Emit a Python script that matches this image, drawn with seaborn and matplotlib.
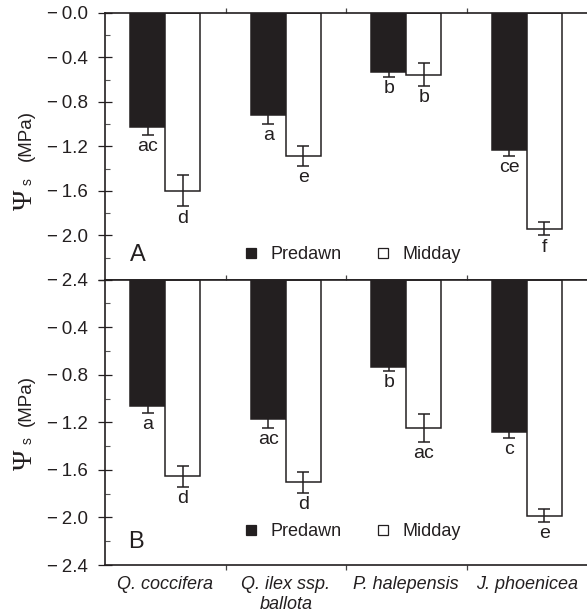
import matplotlib
matplotlib.use("Agg")
import matplotlib.pyplot as plt
import seaborn as sns
import pandas as pd
import numpy as np
from matplotlib.ticker import FixedLocator, FixedFormatter, MultipleLocator
from matplotlib.lines import Line2D

species = ["Q. coccifera", "Q. ilex ssp.\nballota", "P. halepensis", "J. phoenicea"]
times = ["Predawn", "Midday"]

# Panel A
a_predawn = [-1.03, -0.92, -0.53, -1.23]
a_predawn_err = [0.065, 0.075, 0.05, 0.06]
a_predawn_lab = ["ac", "a", "b", "ce"]
a_midday = [-1.60, -1.285, -0.555, -1.94]
a_midday_err = [0.14, 0.09, 0.105, 0.06]
a_midday_lab = ["d", "e", "b", "f"]

# Panel B
b_predawn = [-1.06, -1.17, -0.735, -1.28]
b_predawn_err = [0.06, 0.08, 0.03, 0.05]
b_predawn_lab = ["a", "ac", "b", "c"]
b_midday = [-1.655, -1.705, -1.245, -1.985]
b_midday_err = [0.09, 0.087, 0.118, 0.056]
b_midday_lab = ["d", "d", "ac", "e"]

ytick_vals = [0.0, -0.4, -0.8, -1.2, -1.6, -2.0, -2.4]
M = "\u2212\u2009"
ytick_labs_a = [M + "0.0", M + "0.4", M + "0.8", M + "1.2", M + "1.6", M + "2.0", M + "2.4"]
ytick_labs_b = ["", M + "0.4", M + "0.8", M + "1.2", M + "1.6", M + "2.0", M + "2.4"]

sns.set_style("ticks")
plt.rcParams["font.family"] = ["Liberation Sans", "DejaVu Sans"]

dark = "#231f20"
fig = plt.figure(figsize=(5.87, 6.13), dpi=100)
W, H = 587, 613
left = 105 / W
width = (587 - 105) / W
axA = fig.add_axes([left, 1 - 280 / H, width, (280 - 12.7) / H])
axB = fig.add_axes([left, 1 - 565 / H, width, (565 - 279.6) / H])


def px(x, y):
    return x / W, 1 - y / H


def ylabel(mpa_y, psi_y, s_y):
    fig.text(*px(26, mpa_y), "(MPa)", rotation=90, ha="center", va="center",
             fontsize=13.5, color=dark)
    fig.text(*px(25, psi_y), "\u03a8", rotation=90, ha="center", va="center",
             fontsize=20, color=dark, family=["Liberation Serif", "DejaVu Serif"])
    fig.text(*px(28, s_y), "s", rotation=90, ha="center", va="center",
             fontsize=10, color=dark)


def draw(ax, pre, pre_err, pre_lab, mid, mid_err, mid_lab, ylabs, letter, leg_y, letter_xy, bottom_labels):
    df = pd.DataFrame({
        "Species": species * 2,
        "Time": [times[0]] * 4 + [times[1]] * 4,
        "value": pre + mid,
    })
    sns.barplot(data=df, x="Species", y="value", hue="Time", order=species,
                hue_order=times, palette=[dark, "white"], edgecolor=dark,
                linewidth=1.1, width=0.58, gap=0, errorbar=None, legend=False,
                ax=ax, saturation=1)
    errs = [pre_err, mid_err]
    labs = [pre_lab, mid_lab]
    vals = [pre, mid]
    bar_conts = list(ax.containers)
    for ci, cont in enumerate(bar_conts):
        xs = [p.get_x() + p.get_width() / 2 for p in cont.patches]
        ax.errorbar(xs, vals[ci], yerr=errs[ci], fmt="none", ecolor=dark,
                    elinewidth=1.1, capsize=4.5, capthick=1.1, zorder=5)
        for x, v, e, t in zip(xs, vals[ci], errs[ci], labs[ci]):
            ax.annotate(t, (x, v - e), xytext=(0, -2.2), textcoords="offset points",
                        ha="center", va="top", fontsize=14, color=dark)
    ax.set_xlim(-0.5, 3.5)
    ax.set_ylim(-2.4, 0)
    ax.yaxis.set_major_locator(FixedLocator(ytick_vals))
    ax.yaxis.set_major_formatter(FixedFormatter(ylabs))
    ax.yaxis.set_minor_locator(MultipleLocator(0.2))
    ax.tick_params(axis="y", which="major", direction="inout", length=10, width=0.9,
                   labelsize=13.5, pad=7, colors=dark)
    ax.tick_params(axis="y", which="minor", direction="in", length=3.5, width=0.8,
                   colors="#555555")
    ax.set_xticks(range(4))
    if bottom_labels:
        ax.set_xticklabels(species, fontstyle="italic", fontsize=13, color=dark)
    else:
        ax.set_xticklabels([])
    ax.tick_params(axis="x", which="major", length=0, pad=8)
    ax.xaxis.set_minor_locator(FixedLocator([0.5, 1.5, 2.5]))
    ax.tick_params(axis="x", which="minor", direction="out", length=3.5, width=0.9,
                   top=True, bottom=bottom_labels, colors="#444444")
    for s in ["left", "top", "bottom"]:
        ax.spines[s].set_visible(True)
        ax.spines[s].set_linewidth(1.2)
        ax.spines[s].set_color(dark)
    ax.spines["right"].set_visible(False)
    ax.set_xlabel("")
    ax.set_ylabel("")
    ax.text(letter_xy[0], letter_xy[1], letter, transform=ax.transAxes,
            fontsize=17, ha="left", va="center", color=dark)
    handles = [
        Line2D([], [], marker="s", linestyle="none", markersize=7.5,
               markerfacecolor=dark, markeredgecolor=dark, markeredgewidth=0.9),
        Line2D([], [], marker="s", linestyle="none", markersize=7.5,
               markerfacecolor="white", markeredgecolor=dark, markeredgewidth=0.9),
    ]
    ax.legend(handles, times, loc="center left", bbox_to_anchor=(0.29, leg_y),
              ncol=2, frameon=False, fontsize=13, handlelength=0.7,
              handletextpad=0.75, columnspacing=1.9, borderpad=0,
              borderaxespad=0, labelcolor=dark)


draw(axA, a_predawn, a_predawn_err, a_predawn_lab, a_midday, a_midday_err,
     a_midday_lab, ytick_labs_a, "A", 0.094, (0.052, 0.094), False)
draw(axB, b_predawn, b_predawn_err, b_predawn_lab, b_midday, b_midday_err,
     b_midday_lab, ytick_labs_b, "B", 0.116, (0.048, 0.08), True)

ylabel(135.5, 200, 182)
ylabel(400, 460, 441)

fig.savefig("out.png", dpi=100)
